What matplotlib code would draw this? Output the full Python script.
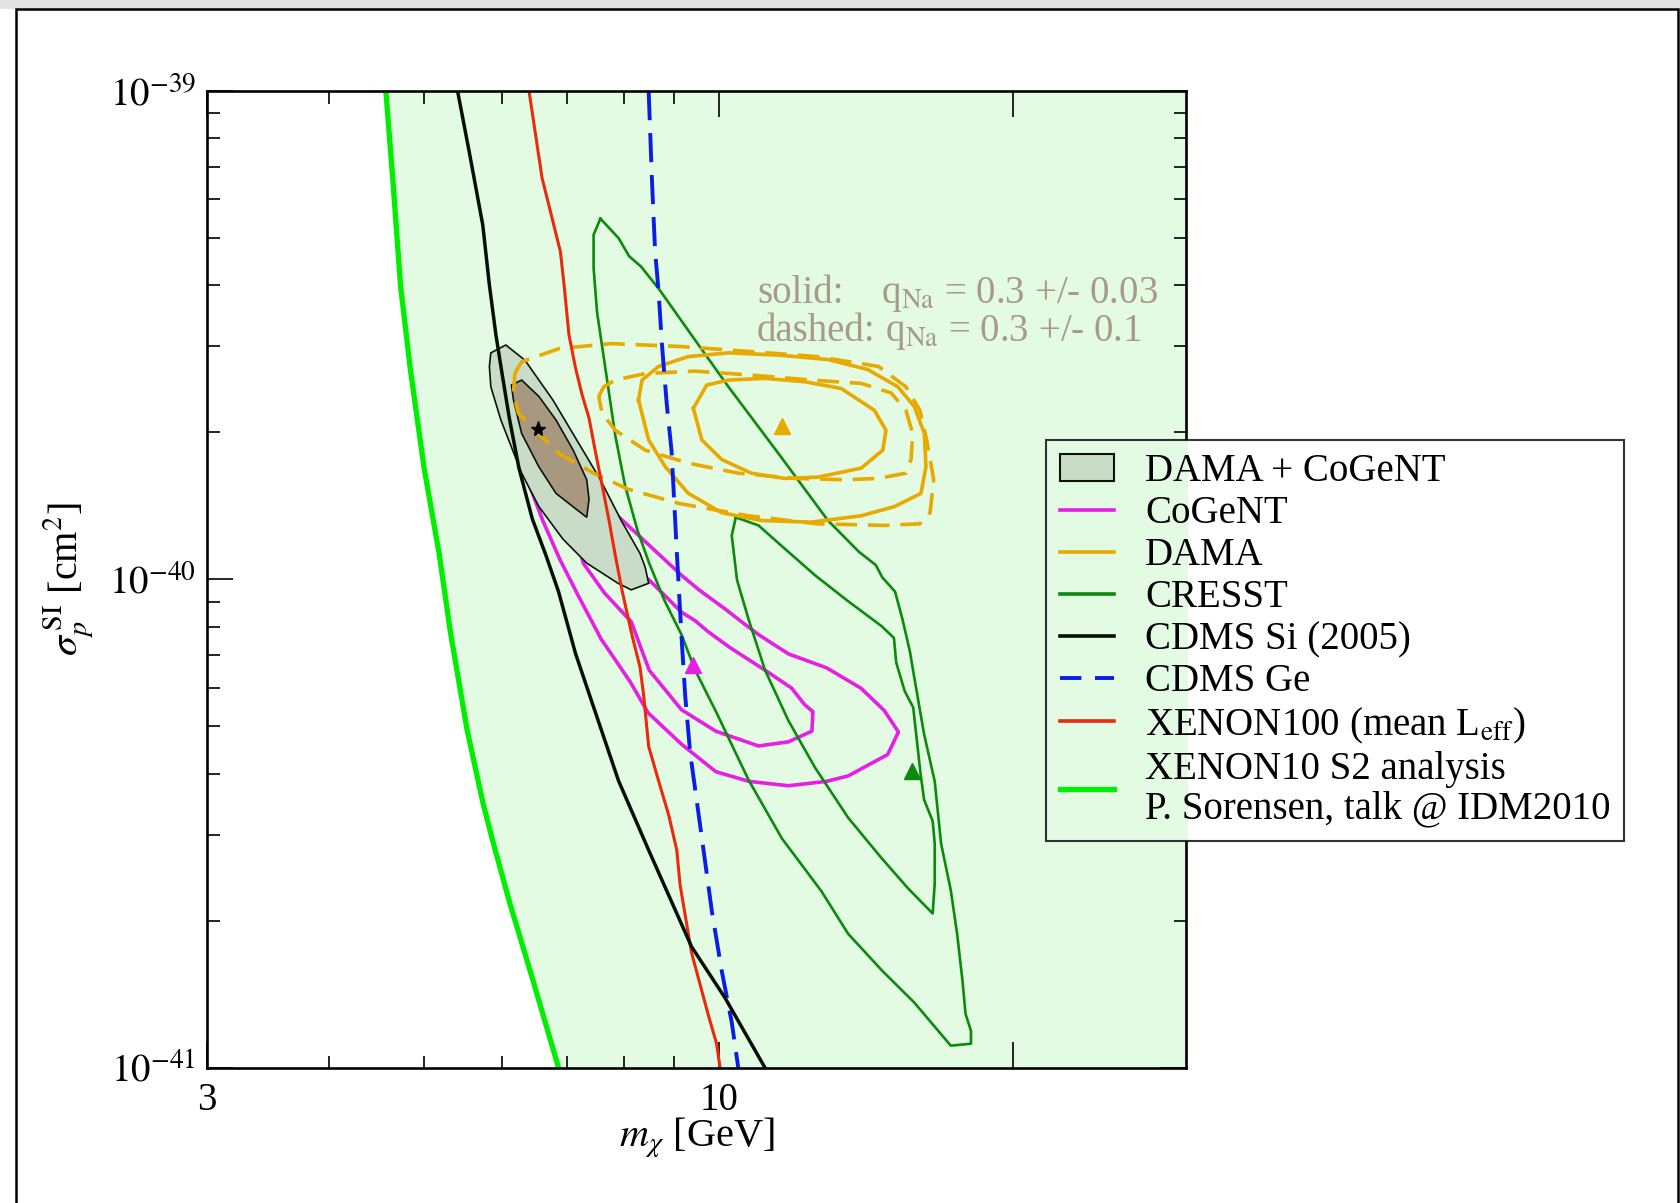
import numpy as np
import matplotlib.pyplot as plt
from matplotlib.patches import Patch, Rectangle
from matplotlib.lines import Line2D
from matplotlib.ticker import FixedLocator, FixedFormatter, NullFormatter

plt.rcParams['font.family'] = ['Liberation Serif', 'DejaVu Serif']
plt.rcParams['mathtext.fontset'] = 'stix'

# WIMP masses in GeV, cross sections in units of 1e-40 cm^2
xe10_m = [4.57, 4.65, 4.73, 4.84, 5.00, 5.18, 5.32, 5.53, 5.74, 5.88, 6.11, 6.46, 6.86]
xe10_s = [10.0, 6.41, 4.00, 2.70, 1.69, 1.13, 0.779, 0.494, 0.350, 0.290, 0.219, 0.151, 0.100]

cdms_si_m = [5.41, 5.56, 5.74, 5.83, 5.92, 6.01, 6.11, 6.25, 6.45, 6.66, 6.86, 7.14, 7.42,
             7.90, 8.48, 9.38, 10.15, 11.15]
cdms_si_s = [10.0, 7.51, 5.32, 4.01, 3.17, 2.62, 2.14, 1.69, 1.33, 1.12, 0.944, 0.705, 0.561,
             0.387, 0.279, 0.177, 0.139, 0.100]

xe100_m = [6.40, 6.50, 6.60, 6.73, 6.89, 6.95, 7.03, 7.14, 7.25, 7.37, 7.48, 7.60, 7.72, 7.84,
           7.97, 8.16, 8.31, 8.38, 8.48, 8.68, 8.89, 9.06, 9.13, 9.38, 9.76, 9.95, 10.03]
xe100_s = [10.0, 8.13, 6.63, 5.67, 4.69, 4.01, 3.17, 2.71, 2.39, 2.14, 1.83, 1.56, 1.33, 1.12,
           0.944, 0.764, 0.661, 0.580, 0.455, 0.387, 0.329, 0.279, 0.237, 0.172, 0.128, 0.112, 0.100]

cdms_ge_m = [8.48, 8.55, 8.61, 8.68, 8.75, 8.85, 8.95, 9.06, 9.17, 9.24, 9.35, 9.54, 9.68, 9.84,
             10.07, 10.31, 10.47]
cdms_ge_s = [10.0, 6.42, 4.69, 3.89, 3.02, 2.28, 1.83, 1.14, 0.740, 0.580, 0.441, 0.329, 0.266,
             0.209, 0.158, 0.124, 0.100]

# DAMA + CoGeNT combined regions
comb_outer_m = [6.06, 5.85, 5.83, 5.85, 5.99, 6.29, 6.55, 6.93, 7.33, 7.89, 8.14, 8.48, 8.41,
                8.31, 7.95, 7.57, 7.16, 6.77, 6.34]
comb_outer_s = [3.02, 2.91, 2.73, 2.48, 2.12, 1.65, 1.41, 1.21, 1.08, 0.982, 0.952, 0.982, 1.06,
                1.13, 1.32, 1.60, 1.93, 2.33, 2.81]
comb_inner_m = [6.29, 6.14, 6.17, 6.29, 6.55, 6.82, 7.16, 7.33, 7.37, 7.33, 7.10, 6.82, 6.55]
comb_inner_s = [2.56, 2.50, 2.33, 1.99, 1.70, 1.50, 1.39, 1.34, 1.46, 1.60, 1.84, 2.12, 2.37]
comb_best = (6.54, 2.03)

# CoGeNT
cogent_in_m = [7.30, 7.51, 7.82, 8.14, 8.49, 8.62, 9.16, 9.46, 9.75, 10.23, 10.55, 11.15, 11.87,
               12.23, 12.48, 12.45, 11.78, 10.98, 9.93, 9.16, 8.49, 8.14, 7.64, 7.27, 7.16]
cogent_in_s = [1.28, 1.25, 1.13, 1.06, 0.997, 0.968, 0.857, 0.823, 0.782, 0.729, 0.700, 0.652,
               0.599, 0.555, 0.536, 0.489, 0.465, 0.456, 0.489, 0.541, 0.652, 0.819, 0.939,
               1.08, 1.22]
cogent_out_m = [6.20, 6.49, 6.82, 7.27, 7.76, 8.47, 9.16, 9.54, 10.15, 10.55, 10.98, 11.78, 12.89,
                13.97, 14.76, 15.26, 14.88, 13.56, 12.89, 11.78, 10.73, 9.93, 9.16, 8.47, 8.12,
                7.58, 7.18, 6.88, 6.61, 6.39, 6.25]
cogent_out_s = [2.06, 1.89, 1.73, 1.58, 1.39, 1.18, 1.02, 0.953, 0.870, 0.819, 0.771, 0.704,
                0.659, 0.599, 0.539, 0.487, 0.438, 0.396, 0.386, 0.378, 0.386, 0.404, 0.460,
                0.533, 0.617, 0.756, 0.929, 1.10, 1.32, 1.58, 1.89]
cogent_best = (9.41, 0.669)

# DAMA, solid and dashed contours
dama_s_in_m = [9.42, 9.72, 10.23, 11.15, 12.24, 13.34, 14.42, 14.82, 14.71, 13.98, 12.63, 11.68,
               10.80, 10.07, 9.61]
dama_s_in_s = [2.24, 2.50, 2.56, 2.58, 2.54, 2.46, 2.22, 2.02, 1.84, 1.69, 1.62, 1.61, 1.65,
               1.76, 1.93]
dama_s_out_m = [8.28, 8.35, 8.68, 9.31, 10.23, 11.50, 12.93, 14.20, 15.24, 15.84, 16.22, 16.28,
                16.09, 15.12, 13.98, 12.43, 11.06, 10.07, 9.31, 8.82, 8.48]
dama_s_out_s = [2.33, 2.56, 2.73, 2.86, 2.91, 2.88, 2.82, 2.69, 2.48, 2.26, 1.99, 1.70, 1.50,
                1.41, 1.35, 1.31, 1.32, 1.37, 1.50, 1.70, 1.93]
dama_d_in_m = [7.54, 7.63, 7.84, 8.41, 9.46, 10.81, 12.43, 13.98, 15.00, 15.53, 15.78, 15.72,
               15.53, 14.54, 13.45, 11.96, 10.47, 9.31, 8.41, 7.84, 7.60]
dama_d_in_s = [2.37, 2.48, 2.56, 2.64, 2.67, 2.62, 2.56, 2.52, 2.41, 2.22, 1.99, 1.76, 1.65,
               1.61, 1.60, 1.61, 1.65, 1.73, 1.84, 2.02, 2.19]
dama_d_out_m = [6.19, 6.29, 6.87, 7.76, 9.12, 10.72, 12.59, 14.56, 15.53, 16.05, 16.31, 16.58,
                16.44, 16.05, 14.80, 12.59, 10.72, 9.12, 8.08, 7.45, 6.87, 6.55, 6.24, 6.17]
dama_d_out_s = [2.64, 2.79, 2.97, 3.04, 3.00, 2.93, 2.86, 2.73, 2.48, 2.22, 1.93, 1.60, 1.37,
                1.30, 1.29, 1.30, 1.35, 1.43, 1.53, 1.65, 1.81, 1.99, 2.19, 2.41]
dama_best = (11.60, 2.06)

# CRESST
cresst_out_m = [7.57, 7.90, 8.10, 8.33, 8.69, 9.46, 10.23, 11.51, 12.93, 13.90, 14.47, 14.69,
                15.14, 15.41, 15.68, 15.84, 16.21, 16.62, 16.87, 17.26, 17.52, 17.74, 17.87,
                18.10, 18.10, 17.26, 15.84, 14.69, 13.56, 12.73, 11.60, 10.73, 9.95, 9.46,
                9.16, 8.80, 8.49, 8.26, 8.02, 7.84, 7.66, 7.51, 7.45, 7.45]
cresst_out_s = [5.48, 5.00, 4.59, 4.37, 3.93, 3.09, 2.48, 1.81, 1.32, 1.14, 1.07, 1.01, 0.944,
                0.827, 0.711, 0.630, 0.482, 0.386, 0.288, 0.231, 0.188, 0.151, 0.129, 0.119,
                0.112, 0.111, 0.136, 0.158, 0.188, 0.230, 0.295, 0.388, 0.533, 0.652, 0.771,
                0.906, 1.08, 1.26, 1.56, 1.97, 2.70, 3.53, 4.34, 5.08]
cresst_in_m = [10.41, 10.98, 11.60, 12.54, 13.56, 14.66, 15.10, 15.18, 15.49, 15.80, 16.08,
               16.21, 16.54, 16.62, 16.62, 16.54, 15.61, 14.66, 13.56, 12.54, 11.78, 11.15,
               10.73, 10.44, 10.31]
cresst_in_s = [1.34, 1.29, 1.17, 1.02, 0.902, 0.803, 0.759, 0.676, 0.590, 0.547, 0.398, 0.354,
               0.320, 0.288, 0.238, 0.207, 0.233, 0.269, 0.325, 0.412, 0.514, 0.652, 0.827,
               0.997, 1.23]
cresst_best = (15.76, 0.406)

UNIT = 1e-40
FILL_GREEN = '#e3fae3'
C_MAG = '#e61ee6'
C_DAMA = '#e8a900'
C_CRESST = '#0b8a0b'
C_BLUE = '#0a1ee6'
C_RED = '#ea2a0a'
C_XE10 = '#00ee00'
C_TEXT = '#a89a88'


def closed(m, s):
    m = list(m) + [m[0]]
    s = list(s) + [s[0]]
    return np.array(m), np.array(s) * UNIT


fig = plt.figure(figsize=(16.81, 12.03), dpi=100)
ax = fig.add_axes([0.1231, 0.1124, 0.5823, 0.8119])
ax.set_xscale('log')
ax.set_yscale('log')
ax.set_xlim(3, 30)
ax.set_ylim(1e-41, 1e-39)

# XENON10 S2 excluded area
xe_s = np.array(xe10_s) * UNIT
ax.fill_betweenx(xe_s, xe10_m, 30, color=FILL_GREEN, lw=0, zorder=0.5)

# CoGeNT contours sit under the combined region
for m, s in [(cogent_in_m, cogent_in_s), (cogent_out_m, cogent_out_s)]:
    mm, ss = closed(m, s)
    ax.plot(mm, ss, color=C_MAG, lw=2.6, zorder=2)

# DAMA + CoGeNT combined fit
ax.fill(comb_outer_m, np.array(comb_outer_s) * UNIT, facecolor='#c8dcc8',
        edgecolor='#0a140a', lw=1.2, zorder=3)
ax.fill(comb_inner_m, np.array(comb_inner_s) * UNIT, facecolor='#a89880',
        edgecolor='#0a140a', lw=1.2, zorder=3.1)

# CRESST
for m, s in [(cresst_out_m, cresst_out_s), (cresst_in_m, cresst_in_s)]:
    mm, ss = closed(m, s)
    ax.plot(mm, ss, color=C_CRESST, lw=1.9, zorder=4)

# DAMA
for m, s in [(dama_s_in_m, dama_s_in_s), (dama_s_out_m, dama_s_out_s)]:
    mm, ss = closed(m, s)
    ax.plot(mm, ss, color=C_DAMA, lw=2.6, zorder=4)
for m, s in [(dama_d_in_m, dama_d_in_s), (dama_d_out_m, dama_d_out_s)]:
    mm, ss = closed(m, s)
    ax.plot(mm, ss, color=C_DAMA, lw=2.6, ls=(0, (6, 3)), zorder=4)

# exclusion limits
ax.plot(xe10_m, xe_s, color=C_XE10, lw=3.8, zorder=4)
ax.plot(cdms_si_m, np.array(cdms_si_s) * UNIT, color='#041004', lw=2.5, zorder=4.2)
ax.plot(xe100_m, np.array(xe100_s) * UNIT, color=C_RED, lw=2.2, zorder=4.1)
ax.plot(cdms_ge_m, np.array(cdms_ge_s) * UNIT, color=C_BLUE, lw=2.8,
        ls=(0, (7.5, 3.3)), zorder=4.1)

# best fit points
ax.plot(dama_best[0], dama_best[1] * UNIT, marker='^', color=C_DAMA, ms=11, zorder=5)
ax.plot(cogent_best[0], cogent_best[1] * UNIT, marker='^', color=C_MAG, ms=11, zorder=5)
ax.plot(cresst_best[0], cresst_best[1] * UNIT, marker='^', color=C_CRESST, ms=11, zorder=5)
ax.plot(comb_best[0], comb_best[1] * UNIT, marker='*', color='black', ms=11, zorder=5)

# axes styling
for sp in ax.spines.values():
    sp.set_linewidth(1.9)
    sp.set_zorder(6)
ax.xaxis.set_major_locator(FixedLocator([3, 10, 20]))
ax.xaxis.set_major_formatter(FixedFormatter(['3', '10', '']))
ax.xaxis.set_minor_locator(FixedLocator([4, 5, 6, 7, 8, 9]))
ax.xaxis.set_minor_formatter(NullFormatter())
ax.yaxis.set_major_locator(FixedLocator([1e-41, 1e-40, 1e-39]))
ax.yaxis.set_major_formatter(FixedFormatter(['$10^{-41}$', '$10^{-40}$', '$10^{-39}$']))
ax.yaxis.set_minor_locator(FixedLocator([k * 1e-41 for k in range(2, 10)] +
                                        [k * 1e-40 for k in range(2, 10)]))
ax.yaxis.set_minor_formatter(NullFormatter())
ax.tick_params(which='both', direction='in', top=True, right=True, width=1.2,
               labelsize=28, color='black')
ax.tick_params(which='major', length=19)
ax.tick_params(which='minor', length=9)
ax.tick_params(axis='x', pad=10)
ax.tick_params(axis='y', pad=8)

fig.text(0.041, 0.519, r'$\sigma_p^{\,\mathrm{SI}}$ [cm$^2$]', rotation=90,
         ha='center', va='center', fontsize=29)
fig.text(0.4146, 0.054, r'$m_\chi$ [GeV]', ha='center', va='center', fontsize=29)

# quenching factor note
ax.text(0.562, 0.783, 'solid:', transform=ax.transAxes, color=C_TEXT, fontsize=28,
        va='baseline')
ax.text(0.689, 0.783, r'q$_{\mathrm{Na}}$ = 0.3 +/- 0.03', transform=ax.transAxes,
        color=C_TEXT, fontsize=28, va='baseline')
ax.text(0.562, 0.744, 'dashed:', transform=ax.transAxes, color=C_TEXT, fontsize=28,
        va='baseline')
ax.text(0.693, 0.744, r'q$_{\mathrm{Na}}$ = 0.3 +/- 0.1', transform=ax.transAxes,
        color=C_TEXT, fontsize=28, va='baseline')

handles = [
    Patch(facecolor='#c8dcc8', edgecolor='#0a140a', lw=1.5),
    Line2D([], [], color=C_MAG, lw=2.6),
    Line2D([], [], color=C_DAMA, lw=2.6),
    Line2D([], [], color=C_CRESST, lw=2.6),
    Line2D([], [], color='#041004', lw=2.6),
    Line2D([], [], color=C_BLUE, lw=2.8, ls=(0, (5.5, 3.5))),
    Line2D([], [], color=C_RED, lw=2.6),
    Line2D([], [], color=C_XE10, lw=3.8),
]
labels = ['DAMA + CoGeNT', 'CoGeNT', 'DAMA', 'CRESST', 'CDMS Si (2005)', 'CDMS Ge',
          r'XENON100 (mean L$_{\mathrm{eff}}$)',
          'XENON10 S2 analysis\nP. Sorensen, talk @ IDM2010']
leg = fig.legend(handles, labels, loc='upper left', bbox_to_anchor=(0.6223, 0.6346),
                 fontsize=28, frameon=True, fancybox=False, edgecolor='black',
                 facecolor='none', framealpha=None, handlelength=1.4,
                 handletextpad=0.8, labelspacing=0.13, borderpad=0.35,
                 borderaxespad=0)
leg.get_frame().set_linewidth(1.5)
leg.get_texts()[-1].set_linespacing(1.08)
leg.set_zorder(10)

# white box behind the legend, green where it overlaps the plot
fig.canvas.draw()
bb = leg.get_window_extent().transformed(fig.transFigure.inverted())
ax_right = ax.get_position().x1 + 0.0012
fig.patches.append(Rectangle((bb.x0, bb.y0), bb.width, bb.height, transform=fig.transFigure,
                             facecolor='white', edgecolor='none', zorder=7))
fig.patches.append(Rectangle((bb.x0, bb.y0), ax_right - bb.x0, bb.height,
                             transform=fig.transFigure, facecolor=FILL_GREEN,
                             edgecolor='none', zorder=7.1))

# slide frame
fig.patches.append(Rectangle((0, 1 - 9 / 1203), 1, 9 / 1203, transform=fig.transFigure,
                             facecolor='#e4e4e4', edgecolor='none', zorder=0.1))
fig.patches.append(Rectangle((16 / 1681, -0.05), 1662 / 1681, 1.05 - 9 / 1203,
                             transform=fig.transFigure, fill=False, edgecolor='black',
                             lw=1.8, zorder=0.2))

fig.savefig('out.png', dpi=100)
